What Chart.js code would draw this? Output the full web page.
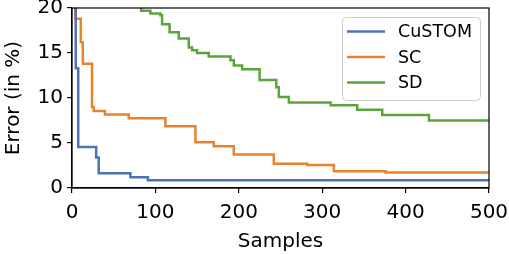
<!DOCTYPE html>
<html>
<head>
<meta charset="utf-8">
<script src="https://cdn.jsdelivr.net/npm/chart.js@4"></script>
<style>
  html, body { margin: 0; padding: 0; background: #fff; }
  #wrap { width: 509px; height: 254px; }
</style>
</head>
<body>
<div id="wrap"><canvas id="myChart" width="509" height="254"></canvas></div>
<script>
// step points: [sample, error %] - the line holds the previous value until the next sample
const customX = [0, 4.5, 7.5, 29, 32, 70, 91, 500];
const customY = [25, 13.3, 4.55, 3.4, 1.65, 1.2, 0.85, 0.85];

const scX = [0, 4, 10.5, 13, 24, 26, 39.5, 68, 112, 148, 170, 194, 242, 282, 314, 376, 500];
const scY = [25, 18.8, 16.2, 13.8, 9.0, 8.55, 8.17, 7.76, 6.87, 5.09, 4.64, 3.72, 2.69, 2.55, 1.87, 1.72, 1.72];

const sdX = [0, 83, 94, 106, 108, 117, 128, 140, 144, 150, 164, 190, 194, 204, 225, 245, 248, 260, 310, 342, 372, 428, 500];
const sdY = [25, 19.7, 19.4, 19.2, 18.2, 17.3, 16.6, 15.6, 15.3, 15.0, 14.6, 14.2, 13.6, 13.2, 12.0, 11.2, 10.1, 9.5, 9.2, 8.7, 8.1, 7.5, 7.5];

const xTicks = [0, 100, 200, 300, 400, 500];
const yTicks = [0, 5, 10, 15, 20];

const FONT = "'DejaVu Sans', sans-serif";

function pts(xs, ys) {
    return xs.map((x, i) => ({ x: x, y: ys[i] }));
}

// box around the plot area (matplotlib style spines)
const frame = {
    id: "frame",
    afterDatasetsDraw(chart) {
        const a = chart.chartArea;
        const ctx = chart.ctx;
        ctx.save();
        ctx.strokeStyle = "#000";
        ctx.lineWidth = 1.2;
        ctx.strokeRect(a.left, a.top, a.right - a.left, a.bottom - a.top);
        ctx.restore();
    }
};

// legend box in the upper right corner of the plot
const boxLegend = {
    id: "boxLegend",
    afterDraw(chart) {
        const ctx = chart.ctx;
        const x0 = 342, y0 = 17, w = 138, h = 83;
        ctx.save();
        ctx.beginPath();
        ctx.roundRect(x0 + 0.5, y0 + 0.5, w, h, 4);
        ctx.fillStyle = "rgba(255,255,255,0.85)";
        ctx.fill();
        ctx.strokeStyle = "#cccccc";
        ctx.lineWidth = 1;
        ctx.stroke();
        ctx.font = "17.5px " + FONT;
        ctx.textBaseline = "middle";
        chart.data.datasets.forEach((ds, i) => {
            const y = y0 + 14.5 + i * 25.5;
            ctx.beginPath();
            ctx.moveTo(x0 + 5, y);
            ctx.lineTo(x0 + 43, y);
            ctx.strokeStyle = ds.borderColor;
            ctx.lineWidth = 2.5;
            ctx.stroke();
            ctx.fillStyle = "#000";
            ctx.fillText(ds.label, x0 + 56, y + 1);
        });
        ctx.restore();
    }
};

const ctx = document.getElementById("myChart").getContext("2d");

new Chart(ctx, {
    type: "line",
    data: {
        datasets: [
            {
                label: "CuSTOM",
                data: pts(customX, customY),
                borderColor: "#4a74b4",
                borderWidth: 2.5,
                pointRadius: 0,
                stepped: true
            },
            {
                label: "SC",
                data: pts(scX, scY),
                borderColor: "#e8822c",
                borderWidth: 2.5,
                pointRadius: 0,
                stepped: true
            },
            {
                label: "SD",
                data: pts(sdX, sdY),
                borderColor: "#5ba43a",
                borderWidth: 2.5,
                pointRadius: 0,
                stepped: true
            }
        ]
    },
    options: {
        responsive: false,
        animation: false,
        layout: { padding: { top: 8, right: 20, left: 0, bottom: 0 } },
        plugins: {
            legend: { display: false },
            tooltip: { enabled: false }
        },
        scales: {
            x: {
                type: "linear",
                min: 0,
                max: 500,
                afterBuildTicks: s => { s.ticks = xTicks.map(v => ({ value: v })); },
                afterFit: s => {
                    s.height = 66;
                    s.paddingLeft = 0;
                    s.paddingRight = 0;
                },
                grid: { drawOnChartArea: false, drawTicks: true, tickLength: 5, color: "#000", lineWidth: 1.2 },
                border: { display: true, color: "#000", width: 1.2 },
                ticks: { color: "#000", font: { family: FONT, size: 20 }, padding: 8, maxRotation: 0 },
                title: { display: true, text: "Samples", color: "#000", font: { family: FONT, size: 20 }, padding: { top: -1, bottom: 0 } }
            },
            y: {
                min: 0,
                max: 20,
                afterBuildTicks: s => { s.ticks = yTicks.map(v => ({ value: v })); },
                afterFit: s => {
                    s.width = 72;
                    s.paddingTop = 0;
                    s.paddingBottom = 0;
                },
                grid: { drawOnChartArea: false, drawTicks: true, tickLength: 5, color: "#000", lineWidth: 1.2 },
                border: { display: true, color: "#000", width: 1.2 },
                ticks: { color: "#000", font: { family: FONT, size: 20 }, padding: 4 },
                title: { display: true, text: "Error (in %)", color: "#000", font: { family: FONT, size: 20 }, padding: { top: 2, bottom: 0 } }
            }
        }
    },
    plugins: [frame, boxLegend]
});
</script>
</body>
</html>
